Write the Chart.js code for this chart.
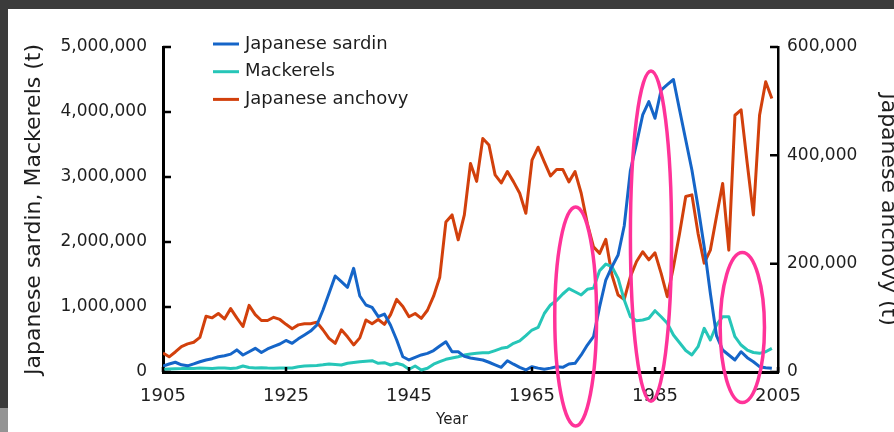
<!DOCTYPE html>
<html>
<head>
<meta charset="utf-8">
<script src="https://cdn.jsdelivr.net/npm/chart.js@4.4.1/dist/chart.umd.min.js"></script>
<style>
  html, body { margin: 0; padding: 0; background: #3b3b3b; width: 894px; height: 432px; overflow: hidden; }
  #wrap { position: absolute; left: 8px; top: 9px; width: 886px; height: 423px; overflow: hidden; background: #fff; }
  #corner { position: absolute; left: 0; top: 408px; width: 8px; height: 24px; background: #949494; }
  canvas { display: block; }
</style>
</head>
<body>
<div id="wrap"><canvas id="fishChart" width="900" height="423"></canvas></div>
<div id="corner"></div>
<script>
// catches in thousand tonnes, one value per year from 1905 to 2004
const years = Array.from({ length: 100 }, (_, i) => 1905 + i);

const sardine = [
  92, 123, 150, 110, 95, 125, 158, 185, 205, 235,
  250, 275, 340, 262, 312, 364, 300, 355, 395, 431,
  485, 441, 510, 570, 630, 720, 950, 1210, 1477, 1389,
  1303, 1595, 1169, 1031, 995, 851, 892, 720, 492, 235,
  185, 226, 262, 287, 330, 400, 466, 312, 312, 240,
  215, 200, 185, 150, 110, 72, 174, 120, 70, 31,
  82, 60, 41, 60, 82, 72, 123, 134, 262, 415,
  543, 1005, 1415, 1620, 1800, 2250, 3100, 3518, 3954, 4159,
  3903, 4338, 4420, 4500, 4031, 3569, 3108, 2543, 1928, 1211,
  560, 338, 262, 185, 312, 220, 158, 82, 65, 57
];

const mackerels = [
  42, 45, 50, 52, 57, 55, 60, 58, 55, 60,
  62, 55, 62, 92, 70, 60, 65, 60, 58, 62,
  60, 62, 80, 92, 95, 100, 110, 123, 115, 108,
  134, 145, 158, 165, 174, 134, 143, 108, 134, 108,
  42, 92, 31, 57, 120, 160, 195, 215, 235, 260,
  277, 287, 297, 297, 330, 364, 380, 441, 480, 560,
  646, 688, 900, 1031, 1100, 1200, 1282, 1235, 1185, 1272,
  1290, 1560, 1660, 1620, 1441, 1108, 850, 790, 800, 826,
  943, 850, 750, 569, 450, 330, 262, 390, 672, 492,
  723, 851, 851, 543, 415, 338, 300, 287, 312, 364
];

const anchovy = [
  35, 28, 37, 47, 52, 55, 64, 103, 100, 108,
  98, 117, 100, 84, 123, 106, 95, 95, 101, 97,
  88, 80, 87, 89, 89, 92, 78, 62, 53, 78,
  65, 50, 63, 96, 89, 97, 88, 106, 134, 121,
  102, 108, 99, 114, 140, 175, 277, 290, 244, 290,
  385, 352, 431, 419, 364, 349, 370, 351, 330, 293,
  391, 415, 388, 362, 374, 374, 351, 370, 330, 274,
  231, 219, 245, 179, 142, 134, 176, 204, 222, 207,
  220, 182, 139, 194, 256, 324, 327, 256, 201, 225,
  287, 348, 225, 474, 484, 385, 290, 474, 536, 505
];

const xTicks = [1905, 1925, 1945, 1965, 1985, 2005];
const leftTicks = [0, 1000000, 2000000, 3000000, 4000000, 5000000];
const rightTicks = [0, 200000, 400000, 600000];

// hand-drawn highlight rings: year span and value span (left axis, t)
const highlights = [
  { from: 1968.7, to: 1975.5, low: -830000, high: 2540000 },
  { from: 1981.0, to: 1987.7, low: -450000, high: 4630000 },
  { from: 1995.6, to: 2002.8, low: -470000, high: 1840000 }
];

const FONT = "'DejaVu Sans', sans-serif";
const INK = '#1e1e1e';

const toPoints = arr => arr.map((v, i) => ({ x: years[i], y: v * 1000 }));

const overlay = {
  id: 'overlay',
  afterDraw(chart) {
    const { ctx, chartArea: a, scales: { x, y, y1 } } = chart;
    ctx.save();

    // inward tick marks
    ctx.strokeStyle = '#000';
    ctx.lineWidth = 2.5;
    ctx.beginPath();
    y.ticks.forEach(t => {
      const py = y.getPixelForValue(t.value);
      ctx.moveTo(a.left, py); ctx.lineTo(a.left + 8, py);
    });
    y1.ticks.forEach(t => {
      const py = y1.getPixelForValue(t.value);
      ctx.moveTo(a.right - 8, py); ctx.lineTo(a.right, py);
    });
    x.ticks.forEach(t => {
      const px = x.getPixelForValue(t.value);
      ctx.moveTo(px, a.bottom); ctx.lineTo(px, a.bottom - 5);
    });
    ctx.stroke();

    // pink rings
    ctx.strokeStyle = '#ff3399';
    ctx.lineWidth = 3.5;
    highlights.forEach(h => {
      const x0 = x.getPixelForValue(h.from), x1 = x.getPixelForValue(h.to);
      const yTop = y.getPixelForValue(h.high), yBot = y.getPixelForValue(h.low);
      ctx.beginPath();
      ctx.ellipse((x0 + x1) / 2, (yTop + yBot) / 2, (x1 - x0) / 2, (yBot - yTop) / 2, 0, 0, Math.PI * 2);
      ctx.stroke();
    });

    // legend
    ctx.font = '18px ' + FONT;
    ctx.textBaseline = 'middle';
    ctx.textAlign = 'left';
    chart.data.datasets.forEach((ds, i) => {
      const ly = 35 + i * 27.7;
      ctx.strokeStyle = ds.borderColor;
      ctx.lineWidth = 3;
      ctx.beginPath();
      ctx.moveTo(205, ly); ctx.lineTo(231, ly);
      ctx.stroke();
      ctx.fillStyle = INK;
      ctx.fillText(ds.label, 237, ly);
    });

    // x axis title
    ctx.font = '15px ' + FONT;
    ctx.textAlign = 'center';
    ctx.fillText('Year', 444, 411);
    ctx.restore();
  }
};

new Chart(document.getElementById('fishChart'), {
  type: 'line',
  data: {
    datasets: [
      { label: 'Japanese sardin', data: toPoints(sardine), borderColor: '#1565c8', yAxisID: 'y' },
      { label: 'Mackerels', data: toPoints(mackerels), borderColor: '#26c6b8', yAxisID: 'y' },
      { label: 'Japanese anchovy', data: toPoints(anchovy), borderColor: '#d2400c', yAxisID: 'y1' }
    ]
  },
  options: {
    responsive: false,
    animation: false,
    devicePixelRatio: 1,
    layout: { padding: { top: 38, left: 0, right: 0, bottom: 0 } },
    elements: {
      point: { radius: 0 },
      line: { borderWidth: 3, tension: 0, borderJoinStyle: 'round' }
    },
    plugins: { legend: { display: false }, tooltip: { enabled: false } },
    scales: {
      x: {
        type: 'linear', min: 1905, max: 2005,
        afterBuildTicks: s => { s.ticks = xTicks.map(v => ({ value: v })); },
        afterFit: s => { s.height = 60; },
        grid: { display: false, drawTicks: false },
        border: { color: '#000', width: 3 },
        ticks: { padding: 14, color: INK, font: { family: FONT, size: 18 }, callback: v => String(v), maxRotation: 0, autoSkip: false }
      },
      y: {
        position: 'left', min: 0, max: 5000000,
        afterBuildTicks: s => { s.ticks = leftTicks.map(v => ({ value: v })); },
        afterFit: s => { s.width = 155; },
        grid: { display: false, drawTicks: false },
        border: { color: '#000', width: 3 },
        ticks: { padding: 16, color: INK, font: { family: FONT, size: 17 }, callback: v => v.toLocaleString('en-US') },
        title: { display: true, text: 'Japanese sardin, Mackerels (t)', color: INK, font: { family: FONT, size: 22 }, padding: { top: 13, bottom: 0 } }
      },
      y1: {
        position: 'right', min: 0, max: 600000,
        afterBuildTicks: s => { s.ticks = rightTicks.map(v => ({ value: v })); },
        afterFit: s => { s.width = 130; },
        grid: { display: false, drawTicks: false },
        border: { color: '#000', width: 2.5 },
        ticks: { padding: 9, color: INK, font: { family: FONT, size: 17 }, callback: v => v.toLocaleString('en-US') },
        title: { display: true, text: 'Japanese anchovy (t)', color: INK, font: { family: FONT, size: 22 }, padding: { top: 7, bottom: 0 } }
      }
    }
  },
  plugins: [overlay]
});
</script>
</body>
</html>
